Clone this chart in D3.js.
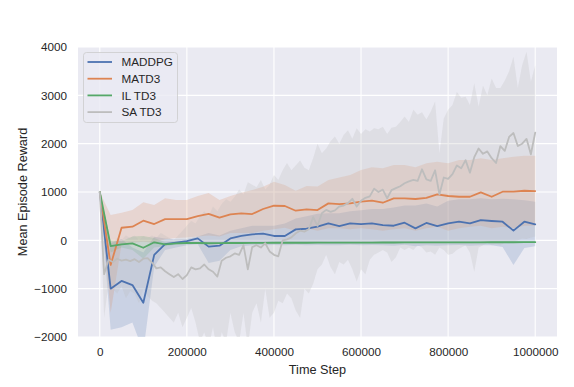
<!DOCTYPE html>
<html>
<head>
<meta charset="utf-8">
<script src="https://d3js.org/d3.v7.min.js"></script>
<style>
  html, body { margin: 0; padding: 0; background: #ffffff; }
  svg { display: block; }
  text { font-family: "Liberation Sans", Arial, sans-serif; fill: #262626; }
</style>
</head>
<body>
<script>
// ---------- data ----------
const seriesNames = ["MADDPG", "MATD3", "IL TD3", "SA TD3"];
const seriesColors = ["#4c72b0", "#dd8452", "#55a868", "#bdbdbd"];
const xTicks = [0, 200000, 400000, 600000, 800000, 1000000];
const yTicks = [-2000, -1000, 0, 1000, 2000, 3000, 4000];

// steps for the three coarse series (every 25000)
const stepsCoarse = d3.range(0, 1000001, 25000);
// steps for SA TD3 (every 10000)
const stepsFine = d3.range(0, 1000001, 10000);

const maddpgMean = [1000,-1000,-840,-925,-1290,-300,-80,-50,-15,40,-130,-110,40,90,125,140,90,90,227,240,282,350,296,350,337,350,316,302,364,248,360,296,350,385,350,420,400,385,200,385,330];
const maddpgUpper = [1000,-60,30,-150,-250,75,40,20,30,80,150,100,200,250,300,300,300,350,450,500,550,560,560,600,620,650,650,680,720,720,760,700,820,850,850,870,850,860,850,830,800];
const maddpgLower = [1000,-1850,-1800,-1700,-2300,-545,-200,-150,-100,-80,-470,-420,-200,-120,-100,-100,-97,-100,-90,-100,-95,-100,-100,-90,-100,-95,-100,-110,-90,-120,-100,-110,-100,-95,-110,-100,-100,-140,-510,-160,-120];

const matd3Mean = [1000,-510,260,282,406,337,440,440,440,503,548,468,538,558,544,648,716,710,613,641,627,765,751,765,800,820,778,868,868,855,880,952,917,902,902,993,902,1006,1006,1026,1020];
const matd3Upper = [1000,523,571,627,786,730,869,834,834,917,980,834,917,985,1040,1109,1213,1144,1026,1123,1115,1247,1302,1351,1454,1510,1489,1558,1558,1510,1593,1627,1593,1661,1661,1696,1661,1696,1730,1751,1751];
const matd3Lower = [1000,-1500,-80,-50,-30,-50,20,50,60,80,100,80,150,150,150,200,230,260,200,250,200,250,250,230,250,230,200,230,250,200,250,280,200,250,280,300,250,280,250,300,300];

const iltd3Mean = [1000,-118,-83,-62,-153,-41,-83,-62,-55,-55,-60,-58,-55,-55,-52,-52,-50,-50,-50,-50,-48,-48,-47,-47,-46,-46,-45,-45,-44,-44,-43,-43,-42,-42,-41,-41,-40,-40,-40,-39,-39];
const iltd3Upper = [1000,0,-20,80,90,50,-40,-30,-35,-35,-40,-40,-38,-37,-35,-36,-33,-33,-34,-32,-31,-32,-30,-31,-30,-29,-30,-28,-29,-28,-27,-28,-27,-26,-27,-26,-25,-26,-25,-24,-24];
const iltd3Lower = [1000,-250,-150,-200,-380,-150,-120,-90,-75,-75,-80,-78,-75,-74,-72,-70,-68,-69,-67,-68,-66,-65,-66,-64,-63,-64,-62,-63,-61,-62,-60,-60,-59,-58,-59,-57,-57,-56,-57,-55,-55];

const satd3Mean = [1000,-700,-400,-450,-380,-420,-400,-430,-390,-450,-380,-370,-460,-580,-560,-640,-700,-760,-700,-800,-720,-560,-600,-580,-500,-600,-650,-750,-420,-360,-330,-270,-300,-100,-600,-140,-100,-150,-60,-230,-300,-330,0,20,60,145,200,180,230,480,300,560,630,590,620,700,720,770,860,700,820,880,910,1070,1000,1050,870,1040,1080,1120,1180,1220,1250,1230,1470,1260,1230,1450,950,1300,1270,1370,1550,1490,1660,1400,1720,1900,1790,1840,1700,1600,1950,1850,2140,2220,1950,2000,2100,1780,2230];
const satd3Upper = [1000,-50,0,-50,50,0,100,50,100,0,80,50,100,50,150,100,50,0,100,200,300,400,350,500,600,500,700,600,750,850,800,900,1050,950,1200,1150,1100,1250,1050,1150,1350,1250,1450,1600,1450,1550,1650,1500,1450,1700,2000,1800,1900,2050,2150,2000,2180,2280,2100,2320,2200,2300,2250,2320,2300,2350,2200,2330,2350,2450,2560,2450,2700,2600,2650,2500,2660,2870,1800,2520,2700,2800,3070,2950,2970,2800,3250,2770,3200,3000,3350,3150,3150,3300,3500,3800,3150,3620,3900,3280,3620];
const satd3Lower = [1000,-1600,-900,-1000,-1100,-950,-1200,-1050,-1100,-1300,-1000,-1150,-1250,-1300,-1400,-1500,-1600,-1700,-1500,-1800,-1600,-1400,-1700,-2100,-1900,-2200,-1800,-2300,-1900,-2100,-1500,-1900,-2100,-1500,-2200,-1500,-1300,-1700,-1000,-1600,-1500,-1250,-1300,-1100,-1200,-1450,-1600,-1000,-1100,-900,-600,-500,-300,-550,-700,-450,-500,-400,-600,-850,-600,-700,-400,-300,-250,-200,-250,-450,-350,-150,-200,-150,-200,-100,-150,-250,-230,-300,-150,-200,-300,-280,-200,-150,-100,-250,-650,-150,-100,-50,-100,-80,-100,-50,-60,-20,0,40,30,60,80];

// ---------- layout ----------
const W = 574, H = 387;
const plot = { left: 78, top: 47, right: 557, bottom: 337 };

const svg = d3.select("body").append("svg").attr("width", W).attr("height", H);

const x = d3.scaleLinear().domain([-50000, 1050000]).range([plot.left, plot.right]);
const y = d3.scaleLinear().domain([-2000, 4000]).range([plot.bottom, plot.top]);

// background
svg.append("rect").attr("x", plot.left).attr("y", plot.top)
  .attr("width", plot.right - plot.left).attr("height", plot.bottom - plot.top)
  .attr("fill", "#eaeaf2");

// grid
const grid = svg.append("g");
grid.selectAll("line.gx").data(xTicks).join("line")
  .attr("x1", d => x(d)).attr("x2", d => x(d)).attr("y1", plot.top).attr("y2", plot.bottom)
  .attr("stroke", "#ffffff").attr("stroke-width", 1.1);
grid.selectAll("line.gy").data(yTicks).join("line")
  .attr("y1", d => y(d)).attr("y2", d => y(d)).attr("x1", plot.left).attr("x2", plot.right)
  .attr("stroke", "#ffffff").attr("stroke-width", 1.1);

// clip
svg.append("clipPath").attr("id", "clip").append("rect")
  .attr("x", plot.left).attr("y", plot.top)
  .attr("width", plot.right - plot.left).attr("height", plot.bottom - plot.top);

const series = [
  { steps: stepsCoarse, mean: maddpgMean, lo: maddpgLower, hi: maddpgUpper },
  { steps: stepsCoarse, mean: matd3Mean, lo: matd3Lower, hi: matd3Upper },
  { steps: stepsCoarse, mean: iltd3Mean, lo: iltd3Lower, hi: iltd3Upper },
  { steps: stepsFine, mean: satd3Mean, lo: satd3Lower, hi: satd3Upper }
];

const bands = svg.append("g").attr("clip-path", "url(#clip)");
const lines = svg.append("g").attr("clip-path", "url(#clip)");

series.forEach((s, k) => {
  const pts = s.steps.map((st, i) => ({ x: st, m: s.mean[i], lo: s.lo[i], hi: s.hi[i] }));
  const area = d3.area().x(d => x(d.x)).y0(d => y(d.lo)).y1(d => y(d.hi));
  bands.append("path").attr("d", area(pts))
    .attr("fill", seriesColors[k]).attr("fill-opacity", k === 3 ? 0.25 : 0.2).attr("stroke", "none");
});
series.forEach((s, k) => {
  const pts = s.steps.map((st, i) => ({ x: st, m: s.mean[i] }));
  const line = d3.line().x(d => x(d.x)).y(d => y(d.m));
  lines.append("path").attr("d", line(pts))
    .attr("fill", "none").attr("stroke", seriesColors[k]).attr("stroke-width", 1.8)
    .attr("stroke-linejoin", "round").attr("stroke-linecap", "round");
});

// axes (tick labels only, seaborn darkgrid style)
const xAxis = svg.append("g").attr("transform", `translate(0,${plot.bottom})`)
  .call(d3.axisBottom(x).tickValues(xTicks).tickSize(0).tickPadding(11).tickFormat(d3.format("d")));
xAxis.select(".domain").remove();
xAxis.selectAll("text").style("font-size", "11.7px").attr("fill", "#262626");

const yAxis = svg.append("g").attr("transform", `translate(${plot.left},0)`)
  .call(d3.axisLeft(y).tickValues(yTicks).tickSize(0).tickPadding(11).tickFormat(d3.format("d")));
yAxis.select(".domain").remove();
yAxis.selectAll("text").style("font-size", "11.7px").attr("fill", "#262626");

// axis labels
svg.append("text").attr("x", (plot.left + plot.right) / 2).attr("y", 374)
  .attr("text-anchor", "middle").style("font-size", "12.7px").text("Time Step");
svg.append("text").attr("transform", `translate(27,${(plot.top + plot.bottom) / 2}) rotate(-90)`)
  .attr("text-anchor", "middle").style("font-size", "12.7px").text("Mean Episode Reward");

// legend
const lg = svg.append("g");
lg.append("rect").attr("x", 83.5).attr("y", 52.5).attr("width", 94).attr("height", 70)
  .attr("rx", 3).attr("fill", "#eaeaf2").attr("fill-opacity", 0.8)
  .attr("stroke", "#cccccc").attr("stroke-width", 0.8);
seriesNames.forEach((n, i) => {
  const yy = 62 + i * 16.7;
  lg.append("line").attr("x1", 87.5).attr("x2", 112).attr("y1", yy).attr("y2", yy)
    .attr("stroke", seriesColors[i]).attr("stroke-width", 1.8);
  lg.append("text").attr("x", 121.5).attr("y", yy + 4.2).style("font-size", "11.7px").text(n);
});
</script>
</body>
</html>
